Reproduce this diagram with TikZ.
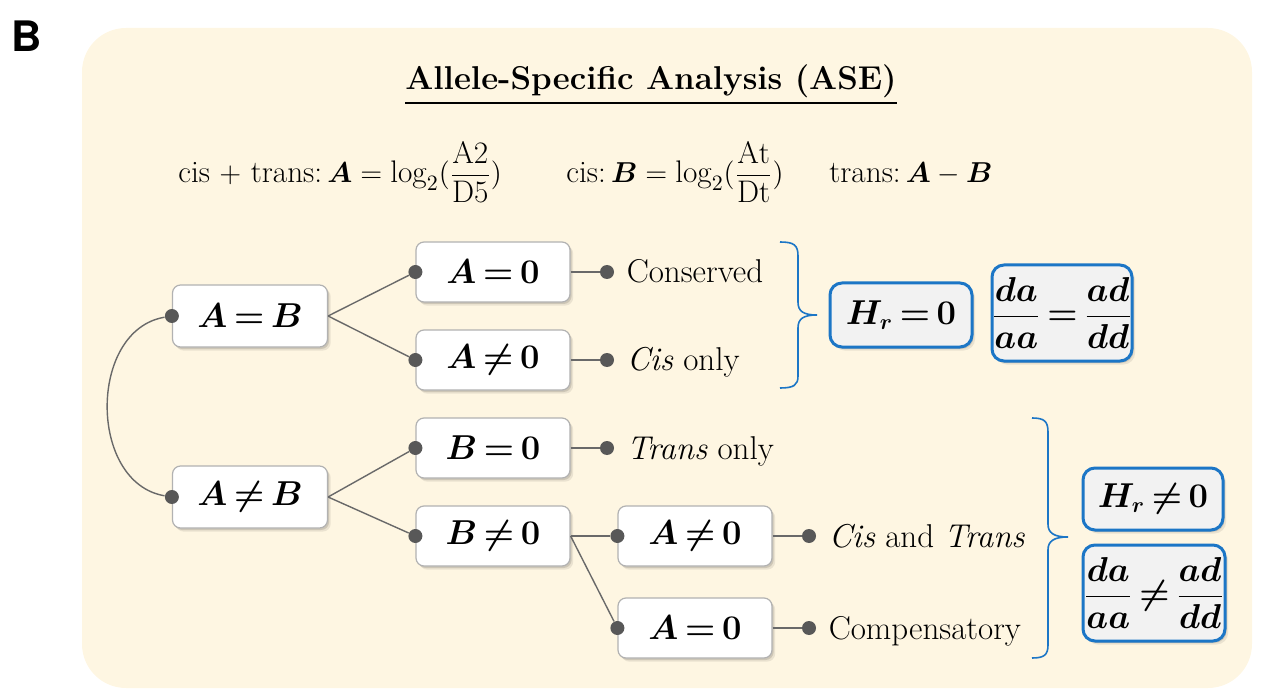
\documentclass[tikz,border=0pt]{standalone}
\usepackage{amsmath}
\usepackage{bm}
\usepackage{fontspec}
\newfontfamily\panelfont{TeX Gyre Heros}

\definecolor{cream}{RGB}{254,246,226}
\definecolor{dotgray}{RGB}{88,88,88}
\definecolor{linkgray}{RGB}{105,105,105}
\definecolor{boxedge}{RGB}{178,178,178}
\definecolor{accent}{RGB}{28,118,198}
\definecolor{panel}{RGB}{242,242,242}

\newcommand{\bx}[1]{\bm{#1}}
\newcommand{\tightrel}{\thickmuskip=3.5mu\relax}

\tikzset{
  softshade/.style={
    preaction={fill=black, opacity=0.08, transform canvas={xshift=1.6pt, yshift=-1.8pt}},
    preaction={fill=black, opacity=0.12, transform canvas={xshift=0.8pt, yshift=-1pt}}},
  txt/.style={font=\fontsize{16.5}{19}\selectfont, inner sep=0pt},
  deftxt/.style={font=\fontsize{15.6}{18}\selectfont, inner sep=0pt, anchor=base west},
  stepbox/.style={softshade, draw=boxedge, line width=0.6pt, fill=white, rounded corners=4pt,
    minimum width=77pt, minimum height=30pt, inner sep=0pt,
    font=\fontsize{16}{19}\selectfont, execute at begin node=\tightrel},
  bigbox/.style={minimum width=77.5pt, minimum height=31pt},
  resbox/.style={softshade, draw=accent, line width=1.5pt, fill=panel, rounded corners=6pt,
    inner sep=0pt, font=\fontsize{16}{19}\selectfont, execute at begin node=\tightrel},
  dot/.style={circle, fill=dotgray, inner sep=0pt, minimum size=7pt},
  link/.style={draw=linkgray, line width=0.7pt},
  brace/.style={draw=accent, line width=0.8pt},
  result/.style={txt, anchor=base west, yshift=-5.5pt}
}

\begin{document}
\begin{tikzpicture}[x=0.5pt, y=-0.5pt]
\useasboundingbox (0,0) rectangle (1271,690);

% panel background and panel letter
\fill[cream, rounded corners=22pt] (82,28) rectangle (1252,688);
\node[font=\panelfont\bfseries\fontsize{21}{24}\selectfont, inner sep=0pt] (letter) at (27,36) {B};

% heading and definitions
\node[font=\bfseries\fontsize{16.5}{20}\selectfont, inner sep=0pt] (title) at (651,85)
  {\underline{Allele-Specific Analysis (ASE)}};
\node[deftxt] (defA) at (178,183)
  {cis $+$ trans:\,$\bm{A} = \log_2(\dfrac{\mathrm{A2}}{\mathrm{D5}})$};
\node[deftxt] (defB) at (566,183)
  {cis:\,$\bm{B} = \log_2(\dfrac{\mathrm{At}}{\mathrm{Dt}})$};
\node[deftxt] (defT) at (829,183)
  {trans:\,$\bm{A} - \bm{B}$};

% decision boxes
\node[stepbox, bigbox] (AeqB) at (250,316) {$\bx{A} \bx{=} \bx{B}$};
\node[stepbox, bigbox] (AneB) at (250,497) {$\bx{A} \bx{\neq} \bx{B}$};
\node[stepbox] (Aeq0) at (493,272) {$\bx{A} \bx{=} \bx{0}$};
\node[stepbox] (Ane0) at (493,360) {$\bx{A} \bx{\neq} \bx{0}$};
\node[stepbox] (Beq0) at (493,448) {$\bx{B} \bx{=} \bx{0}$};
\node[stepbox] (Bne0) at (493,536) {$\bx{B} \bx{\neq} \bx{0}$};
\node[stepbox] (Ane0b) at (695,536) {$\bx{A} \bx{\neq} \bx{0}$};
\node[stepbox] (Aeq0b) at (695,628) {$\bx{A} \bx{=} \bx{0}$};

% entry dots on the boxes
\node[dot] (dAeqB) at (AeqB.west) {};
\node[dot] (dAneB) at (AneB.west) {};
\node[dot] (dAeq0) at (Aeq0.west) {};
\node[dot] (dAne0) at (Ane0.west) {};
\node[dot] (dBeq0) at (Beq0.west) {};
\node[dot] (dBne0) at (Bne0.west) {};
\node[dot] (dAne0b) at (Ane0b.west) {};
\node[dot] (dAeq0b) at (Aeq0b.west) {};

% outcome dots
\node[dot] (oCons) at (607,272) {};
\node[dot] (oCis) at (607,360) {};
\node[dot] (oTrans) at (607,448) {};
\node[dot] (oBoth) at (809,536) {};
\node[dot] (oComp) at (809,628) {};

% branches
\draw[link] (dAeqB) .. controls (88,330) and (88,483) .. (dAneB);
\draw[link] (AeqB.east) -- (dAeq0);
\draw[link] (AeqB.east) -- (dAne0);
\draw[link] (AneB.east) -- (dBeq0);
\draw[link] (AneB.east) -- (dBne0);
\draw[link] (Bne0.east) -- (dAne0b);
\draw[link] (Bne0.east) -- (dAeq0b);
\draw[link] (Aeq0.east) -- (oCons);
\draw[link] (Ane0.east) -- (oCis);
\draw[link] (Beq0.east) -- (oTrans);
\draw[link] (Ane0b.east) -- (oBoth);
\draw[link] (Aeq0b.east) -- (oComp);

% outcome labels
\node[result] (lCons) at ([xshift=6pt]oCons.east) {Conserved};
\node[result] (lCis) at ([xshift=6pt]oCis.east) {\textit{Cis} only};
\node[result] (lTrans) at ([xshift=6pt]oTrans.east) {\textit{Trans} only};
\node[result] (lBoth) at ([xshift=6pt]oBoth.east) {\textit{Cis} and \textit{Trans}};
\node[result] (lComp) at ([xshift=6pt]oComp.east) {Compensatory};

% grouping braces
\draw[brace] (780,242) .. controls (794,242) and (798,245) .. (798,256) -- (798,302)
  .. controls (798,311) and (803,315) .. (817,315)
  .. controls (803,315) and (798,319) .. (798,328) -- (798,376)
  .. controls (798,385) and (794,388) .. (780,388);
\draw[brace] (1032,418) .. controls (1044,418) and (1048,421) .. (1048,432) -- (1048,524)
  .. controls (1048,533) and (1054,537) .. (1068,537)
  .. controls (1054,537) and (1048,541) .. (1048,550) -- (1048,645)
  .. controls (1048,655) and (1044,658) .. (1032,658);

% model conditions
\node[resbox, minimum width=71pt, minimum height=32pt] (Hr0) at (901,315)
  {$\bx{H_r} \bx{=} \bx{0}$};
\node[resbox, minimum width=70pt, minimum height=48pt] (eqR) at (1062,313)
  {$\dfrac{\bx{da}}{\bx{aa}} \bx{=} \dfrac{\bx{ad}}{\bx{dd}}$};
\node[resbox, minimum width=70pt, minimum height=31pt] (Hr1) at (1153,499)
  {$\bx{H_r} \bx{\neq} \bx{0}$};
\node[resbox, minimum width=71pt, minimum height=48pt] (neR) at (1154,593)
  {$\dfrac{\bx{da}}{\bx{aa}} \bx{\neq} \dfrac{\bx{ad}}{\bx{dd}}$};
\end{tikzpicture}
\end{document}
